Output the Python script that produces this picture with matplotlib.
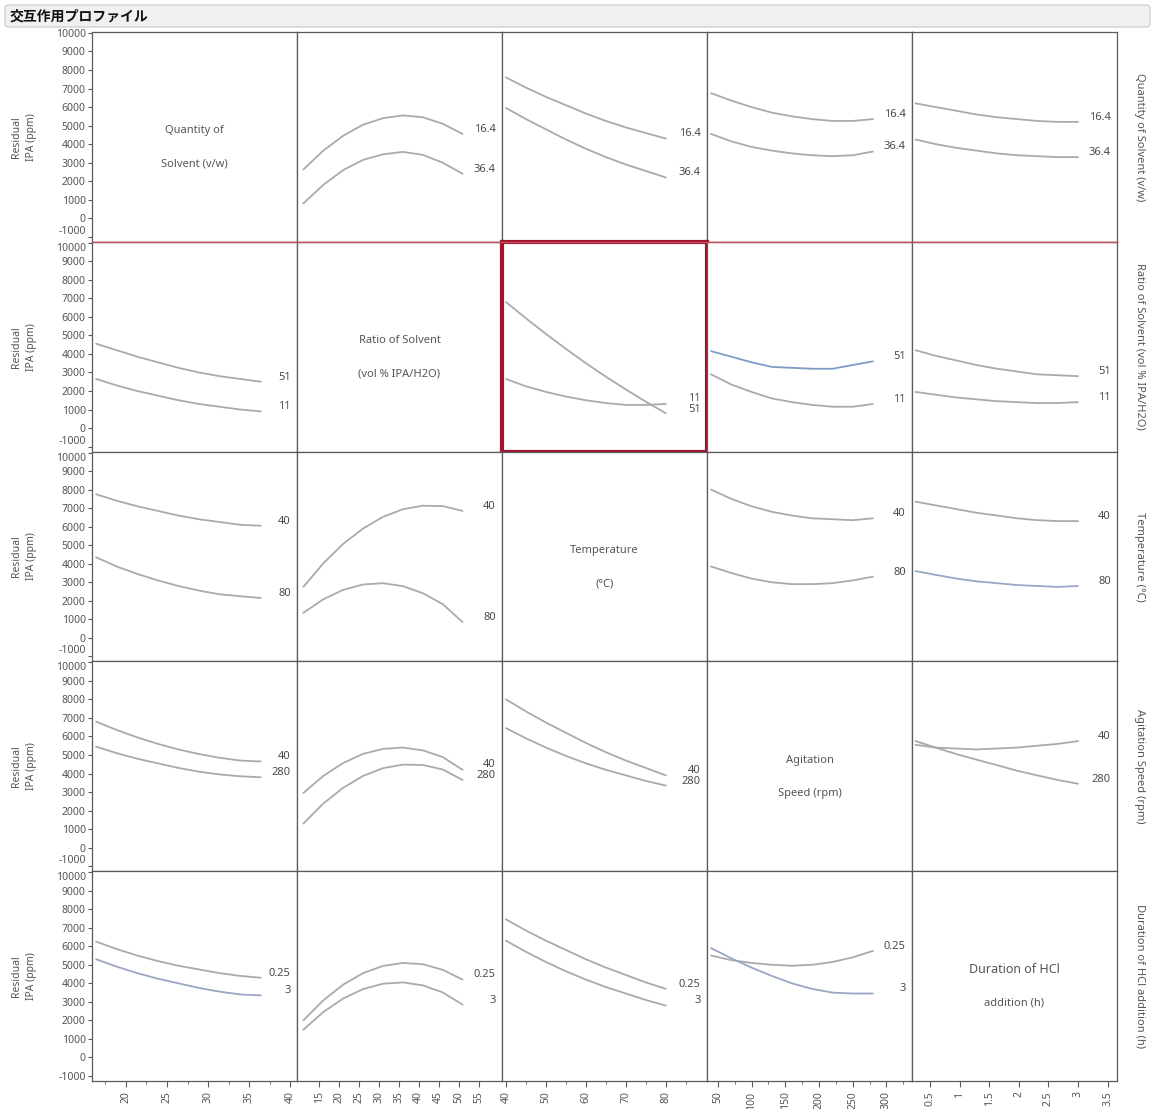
import matplotlib
matplotlib.use("Agg")
import matplotlib.pyplot as plt
from matplotlib.patches import FancyBboxPatch
from matplotlib.lines import Line2D
from matplotlib.ticker import FixedLocator, FuncFormatter

plt.rcParams["font.family"] = ["Noto Sans", "DejaVu Sans"]

title = "交互作用プロファイル"
factor_names = ["Quantity of Solvent (v/w)", "Ratio of Solvent (vol % IPA/H2O)",
                "Temperature (°C)", "Agitation Speed (rpm)", "Duration of HCl addition (h)"]
diag_text = [("Quantity of", "Solvent (v/w)"), ("Ratio of Solvent", "(vol % IPA/H2O)"),
             ("Temperature", "(°C)"), ("Agitation", "Speed (rpm)"),
             ("Duration of HCl", "addition (h)")]
level_labels = [("16.4", "36.4"), ("51", "11"), ("40", "80"), ("40", "280"), ("0.25", "3")]

# x grid of each factor (column)
qty_x = [16.4, 18.9, 21.4, 23.9, 26.4, 28.9, 31.4, 33.9, 36.4]
ratio_x = [11, 16, 21, 26, 31, 36, 41, 46, 51]
temp_x = [40, 45, 50, 55, 60, 65, 70, 75, 80]
speed_x = [40, 70, 100, 130, 160, 190, 220, 250, 280]
dur_x = [0.25, 0.59, 0.94, 1.28, 1.63, 1.97, 2.31, 2.66, 3.0]

x_ticks = [[20, 25, 30, 35, 40], [15, 20, 25, 30, 35, 40, 45, 50, 55],
           [40, 50, 60, 70, 80], [50, 100, 150, 200, 250, 300],
           [0.5, 1, 1.5, 2, 2.5, 3, 3.5]]
x_minor = [[17.5, 22.5, 27.5, 32.5, 37.5], [], [45, 55, 65, 75, 85],
           [75, 125, 175, 225, 275, 325], []]
y_ticks = [-1000, 0, 1000, 2000, 3000, 4000, 5000, 6000, 7000, 8000, 9000, 10000]

# Residual IPA (ppm) - row factor at its two levels
qty_by_ratio = [[2630, 3650, 4450, 5050, 5400, 5550, 5450, 5100, 4550],
                [800, 1800, 2600, 3150, 3450, 3580, 3420, 3000, 2400]]
qty_by_temp = [[7600, 7050, 6550, 6100, 5650, 5250, 4900, 4600, 4300],
               [5950, 5350, 4800, 4250, 3750, 3300, 2900, 2550, 2200]]
qty_by_speed = [[6750, 6350, 6000, 5700, 5500, 5350, 5250, 5250, 5350],
                [4550, 4150, 3850, 3650, 3500, 3400, 3350, 3400, 3600]]
qty_by_dur = [[6200, 6000, 5800, 5600, 5450, 5350, 5250, 5200, 5200],
              [4250, 4000, 3800, 3650, 3500, 3400, 3350, 3300, 3300]]

ratio_by_qty = [[4550, 4200, 3850, 3550, 3250, 3000, 2800, 2650, 2500],
                [2650, 2300, 2000, 1750, 1500, 1300, 1150, 1000, 900]]
ratio_by_temp = [[6800, 5920, 5080, 4270, 3500, 2770, 2080, 1420, 800],
                 [2650, 2250, 1950, 1700, 1500, 1350, 1250, 1250, 1300]]
ratio_by_speed = [[4150, 3850, 3550, 3300, 3250, 3200, 3200, 3400, 3600],
                  [2900, 2350, 1950, 1600, 1400, 1250, 1150, 1150, 1300]]
ratio_by_dur = [[4200, 3900, 3650, 3400, 3200, 3050, 2900, 2850, 2800],
                [1950, 1800, 1650, 1550, 1450, 1400, 1350, 1350, 1400]]

temp_by_qty = [[7750, 7400, 7100, 6850, 6600, 6400, 6250, 6100, 6050],
               [4350, 3850, 3450, 3100, 2800, 2550, 2350, 2250, 2150]]
temp_by_ratio = [[2750, 4020, 5070, 5900, 6530, 6940, 7130, 7110, 6850],
                 [1350, 2080, 2590, 2880, 2950, 2790, 2410, 1820, 850]]
temp_by_speed = [[8000, 7500, 7100, 6800, 6600, 6450, 6400, 6350, 6450],
                 [3850, 3500, 3200, 3000, 2900, 2900, 2950, 3100, 3300]]
temp_by_dur = [[7350, 7150, 6950, 6750, 6600, 6450, 6350, 6300, 6300],
               [3600, 3400, 3200, 3050, 2950, 2850, 2800, 2750, 2800]]

speed_by_qty = [[6800, 6350, 5950, 5600, 5300, 5050, 4850, 4700, 4650],
                [5450, 5100, 4800, 4550, 4300, 4100, 3950, 3850, 3800]]
speed_by_ratio = [[2950, 3870, 4570, 5060, 5330, 5400, 5250, 4890, 4200],
                  [1300, 2380, 3230, 3870, 4290, 4480, 4460, 4220, 3650]]
speed_by_temp = [[8000, 7350, 6750, 6200, 5650, 5150, 4700, 4300, 3900],
                 [6450, 5900, 5400, 4950, 4550, 4200, 3900, 3600, 3350]]
speed_by_dur = [[5550, 5400, 5350, 5300, 5350, 5400, 5500, 5600, 5750],
                [5750, 5400, 5050, 4750, 4450, 4150, 3900, 3650, 3450]]

dur_by_qty = [[6250, 5850, 5500, 5200, 4950, 4750, 4550, 4400, 4300],
              [5300, 4900, 4550, 4250, 4000, 3750, 3550, 3400, 3350]]
dur_by_ratio = [[2000, 3080, 3930, 4550, 4940, 5100, 5030, 4730, 4200],
                [1500, 2450, 3180, 3690, 3980, 4050, 3890, 3510, 2850]]
dur_by_temp = [[7450, 6850, 6300, 5800, 5300, 4850, 4450, 4050, 3700],
               [6300, 5700, 5150, 4650, 4200, 3800, 3450, 3100, 2800]]
dur_by_speed = [[5500, 5250, 5100, 5000, 4950, 5000, 5150, 5400, 5750],
                [5900, 5350, 4850, 4400, 4000, 3700, 3500, 3450, 3450]]

x_grids = [qty_x, ratio_x, temp_x, speed_x, dur_x]
profiles = {
    (0, 1): qty_by_ratio, (0, 2): qty_by_temp, (0, 3): qty_by_speed, (0, 4): qty_by_dur,
    (1, 0): ratio_by_qty, (1, 2): ratio_by_temp, (1, 3): ratio_by_speed, (1, 4): ratio_by_dur,
    (2, 0): temp_by_qty, (2, 1): temp_by_ratio, (2, 3): temp_by_speed, (2, 4): temp_by_dur,
    (3, 0): speed_by_qty, (3, 1): speed_by_ratio, (3, 2): speed_by_temp, (3, 4): speed_by_dur,
    (4, 0): dur_by_qty, (4, 1): dur_by_ratio, (4, 2): dur_by_temp, (4, 3): dur_by_speed,
}

xlims = [(15.9, 40.8), (9.4, 60.9), (39, 90.3), (34, 338), (0.19, 3.66)]
ylim = (-1270, 10050)
line_gray = "#a9a9b0"
blue_lines = {(1, 3, 0): "#7f9bc6", (2, 4, 1): "#9aa6c6", (4, 0, 1): "#9aa6c2", (4, 3, 1): "#9aa6c2"}
frame_col = "#5a5a5a"
text_col = "#555555"

W, H = 1156, 1109
fig, axes = plt.subplots(5, 5, figsize=(W / 100, H / 100), dpi=100)
fig.subplots_adjust(left=92 / W, right=1117 / W, top=1 - 32 / H, bottom=1 - 1081 / H,
                    wspace=0, hspace=0)

fmt = FuncFormatter(lambda v, p: f"{v:g}")

for r in range(5):
    for c in range(5):
        ax = axes[r][c]
        ax.set_xlim(*xlims[c])
        ax.set_ylim(*ylim)
        for sp in ax.spines.values():
            sp.set_color(frame_col)
            sp.set_linewidth(0.9)
        ax.xaxis.set_major_locator(FixedLocator(x_ticks[c]))
        ax.xaxis.set_minor_locator(FixedLocator(x_minor[c]))
        ax.xaxis.set_major_formatter(fmt)
        ax.yaxis.set_major_locator(FixedLocator(y_ticks))
        ax.yaxis.set_major_formatter(fmt)
        ax.tick_params(axis="both", which="both", colors=frame_col, labelcolor=text_col,
                       labelsize=7.5, direction="out")
        ax.tick_params(axis="x", which="major", length=4, labelrotation=90)
        ax.tick_params(axis="x", which="minor", length=2.5)
        ax.tick_params(axis="y", length=3, pad=1.5)
        if r < 4:
            ax.tick_params(axis="x", which="both", bottom=False, labelbottom=False)
        if c > 0:
            ax.tick_params(axis="y", left=False, labelleft=False)

        if r == c:
            l1, l2 = diag_text[r]
            ax.text(0.5, 0.53, l1, transform=ax.transAxes, ha="center", va="center",
                    fontsize=9 if r == 4 else 8, color=text_col)
            ax.text(0.5, 0.37, l2, transform=ax.transAxes, ha="center", va="center",
                    fontsize=8, color=text_col)
            continue

        curves = profiles[(r, c)]
        xs = x_grids[c]
        for k, ys in enumerate(curves):
            ax.plot(xs, ys, color=blue_lines.get((r, c, k), line_gray), lw=1.3,
                    solid_capstyle="round")
        ends = [ys[-1] for ys in curves]
        lab_y = [e + 250 for e in ends]
        if abs(lab_y[0] - lab_y[1]) < 600:
            m = (lab_y[0] + lab_y[1]) / 2
            s = 1 if ends[0] >= ends[1] else -1
            lab_y = [m + s * 300, m - s * 300]
        for k in range(2):
            ax.text(0.97, lab_y[k], level_labels[r][k], transform=ax.get_yaxis_transform(),
                    ha="right", va="center", fontsize=8, color="#4a4a4a")

# keep stacked end labels of adjacent rows apart
fig.canvas.draw()
for r in range(5):
    ax = axes[r][0]
    for tick in ax.yaxis.get_major_ticks():
        if tick.get_loc() == 10000 and r > 0:
            tick.label1.set_va("top")
        if tick.get_loc() == -1000 and r < 4:
            tick.label1.set_va("bottom")

# highlighted cell
for sp in axes[1][2].spines.values():
    sp.set_color("#a3122e")
    sp.set_linewidth(3)
    sp.set_zorder(5)

# red separator between first and second rows
y_sep = axes[1][0].get_position().y1
fig.add_artist(Line2D([92 / W, 1117 / W], [y_sep, y_sep], color="#c0505a", lw=1.0, zorder=6))

# row labels
for r in range(5):
    pos = axes[r][0].get_position()
    yc = (pos.y0 + pos.y1) / 2
    fig.text(24 / W, yc, "Residual\nIPA (ppm)", rotation=90, ha="center", va="center",
             fontsize=7.5, color=text_col, linespacing=1.6)
    fig.text(1140 / W, yc, factor_names[r], rotation=270, ha="center", va="center",
             fontsize=8, color=text_col)

# title bar
fig.add_artist(FancyBboxPatch((5 / W, 1 - 27 / H), 1145 / W, 22 / H,
                              boxstyle="round,pad=0,rounding_size=0.003",
                              transform=fig.transFigure, facecolor="#f0f0f0",
                              edgecolor="#c8c8c8", lw=0.8))
fig.text(10 / W, 1 - 16 / H, title, ha="left", va="center", fontsize=10, fontweight="bold",
         family=["Noto Sans CJK JP", "DejaVu Sans"], color="#111111")

fig.savefig("out.png", dpi=100, facecolor="white")
